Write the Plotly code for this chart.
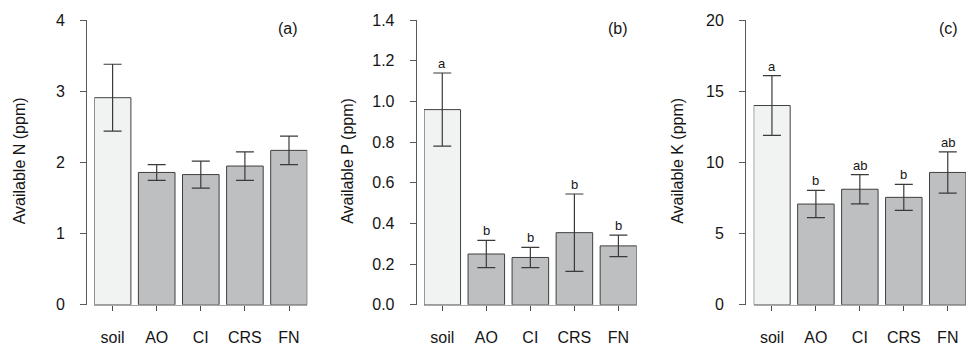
import plotly.graph_objects as go

# Treatments and measured nutrient availability (mean ± SE)
categories = ["soil", "AO", "CI", "CRS", "FN"]

n_mean = [2.91, 1.86, 1.83, 1.95, 2.17]
n_se = [0.47, 0.11, 0.19, 0.20, 0.20]

p_mean = [0.96, 0.25, 0.233, 0.355, 0.29]
p_se = [0.18, 0.067, 0.05, 0.19, 0.053]
p_letters = ["a", "b", "b", "b", "b"]

k_mean = [14.0, 7.08, 8.12, 7.55, 9.3]
k_se = [2.1, 0.96, 1.03, 0.91, 1.45]
k_letters = ["a", "b", "ab", "b", "ab"]

panel_tags = ["(a)", "(b)", "(c)"]
y_titles = ["Available N (ppm)", "Available P (ppm)", "Available K (ppm)"]
y_ranges = [[0, 4], [0, 1.4], [0, 20]]
y_dticks = [1, 0.2, 5]
y_formats = ["d", ".1f", "d"]

W, H = 968, 357
FONT = "Liberation Sans, Arial, sans-serif"
TEXT = "#151515"
fill_colors = ["#f1f3f3"] + ["#bebfc1"] * 4
outline = "#3f3f3f"

# pixel layout of each panel: (plot left, plot right, y-axis x, title x)
panels = [
    (94.3, 307.3, 86.0, 19.0),
    (424.0, 636.7, 415.7, 347.5),
    (753.7, 966.0, 745.0, 677.5),
]
tag_x = [287.5, 617.7, 948.0]
top_px, bottom_px = 12.7, 311.7
y_dom = [(H - bottom_px) / H, (H - top_px) / H]

series = [(n_mean, n_se, None), (p_mean, p_se, p_letters), (k_mean, k_se, k_letters)]

fig = go.Figure()
annotations = []
layout = {}

for i, ((mean, se, letters), (x0, x1, yax, tx)) in enumerate(zip(series, panels)):
    suffix = "" if i == 0 else str(i + 1)
    xname, yname = "x" + suffix, "y" + suffix
    fig.add_trace(go.Bar(
        x=categories, y=mean,
        xaxis=xname, yaxis=yname,
        width=0.83,
        marker=dict(color=fill_colors, line=dict(color=outline, width=1)),
        error_y=dict(type="data", array=se, visible=True,
                     color="#3a3a3a", thickness=1.2, width=9),
        showlegend=False,
    ))
    layout["xaxis" + suffix] = dict(
        domain=[x0 / W, x1 / W], anchor=yname,
        range=[-0.415, 4.415], type="category",
        showline=True, linecolor="#a8a8a8", linewidth=1,
        ticks="outside", ticklen=5, tickcolor="#4a4a4a", tickwidth=1,
        ticklabelstandoff=13,
        tickfont=dict(family=FONT, size=16, color=TEXT),
        showgrid=False, zeroline=False, fixedrange=True,
    )
    layout["yaxis" + suffix] = dict(
        domain=y_dom, anchor="free", position=yax / W,
        range=y_ranges[i], dtick=y_dticks[i], tick0=0,
        tickformat=y_formats[i],
        showline=True, linecolor="#5a5a5a", linewidth=1,
        ticks="outside", ticklen=6, tickcolor="#5a5a5a", tickwidth=1,
        ticklabelstandoff=12,
        tickfont=dict(family=FONT, size=16, color=TEXT),
        showgrid=False, zeroline=False, fixedrange=True,
    )
    # y-axis title
    annotations.append(dict(
        text=y_titles[i], xref="paper", yref="paper",
        x=tx / W, y=(H - 161) / H, textangle=-90, showarrow=False,
        xanchor="center", yanchor="middle",
        font=dict(family=FONT, size=16, color=TEXT),
    ))
    # panel tag
    annotations.append(dict(
        text=panel_tags[i], xref="paper", yref="paper",
        x=tag_x[i] / W, y=(H - 21) / H, showarrow=False,
        xanchor="center", yanchor="middle",
        font=dict(family=FONT, size=16, color=TEXT),
    ))
    # significance letters above error bars
    if letters:
        for c, m, s, lab in zip(categories, mean, se, letters):
            annotations.append(dict(
                text=lab, xref=xname, yref=yname, x=c, y=m + s,
                showarrow=False, xanchor="center", yanchor="bottom",
                yshift=0,
                font=dict(family=FONT, size=13, color=TEXT),
            ))

fig.update_layout(
    width=W, height=H,
    margin=dict(l=0, r=0, t=0, b=0),
    paper_bgcolor="white", plot_bgcolor="white",
    annotations=annotations,
    **layout,
)

fig.write_html("out.html")
